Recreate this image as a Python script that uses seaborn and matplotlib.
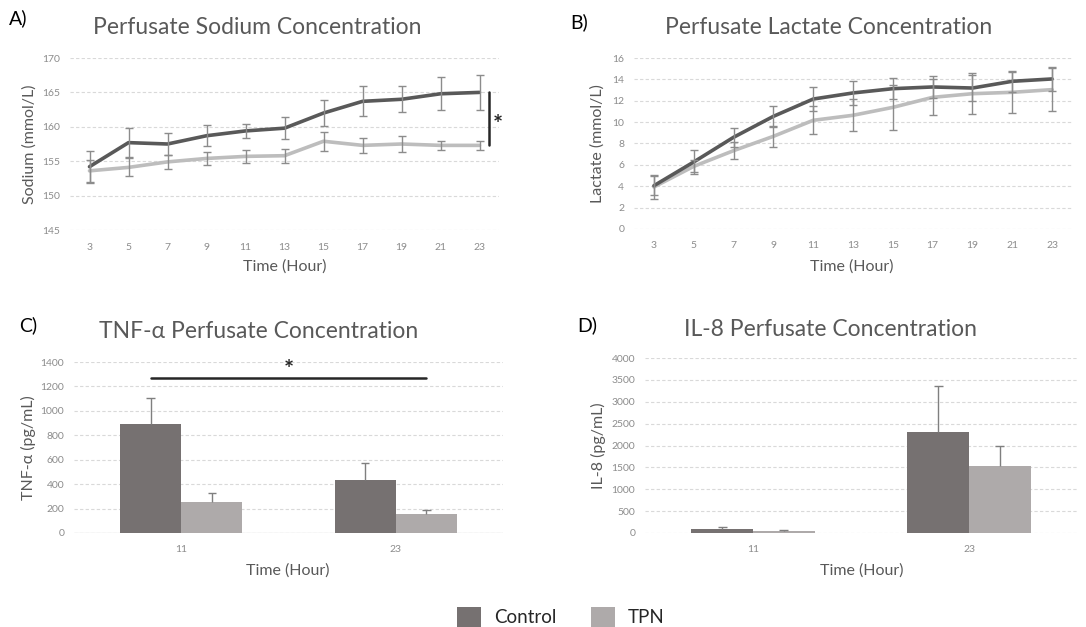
import numpy as np
import pandas as pd
import matplotlib
matplotlib.use("Agg")
import matplotlib.pyplot as plt
from matplotlib.patches import Patch
import seaborn as sns

# ---- data -------------------------------------------------------------
hours = [3, 5, 7, 9, 11, 13, 15, 17, 19, 21, 23]

sodium_control = [154.2, 157.7, 157.5, 158.7, 159.4, 159.8, 162.0, 163.7, 164.0, 164.8, 165.0]
sodium_control_err = [2.3, 2.1, 1.6, 1.5, 1.0, 1.6, 1.9, 2.2, 1.9, 2.4, 2.5]
sodium_tpn = [153.6, 154.1, 154.9, 155.4, 155.7, 155.8, 157.9, 157.3, 157.5, 157.3, 157.3]
sodium_tpn_err = [1.6, 1.3, 1.0, 1.0, 0.9, 1.0, 1.4, 1.1, 1.1, 0.7, 0.7]

lactate_control = [4.05, 6.27, 8.58, 10.54, 12.16, 12.73, 13.13, 13.29, 13.19, 13.82, 14.04]
lactate_control_err = [0.9, 1.15, 0.9, 0.95, 1.1, 1.1, 1.0, 1.0, 1.25, 1.0, 1.1]
lactate_tpn = [3.93, 5.86, 7.33, 8.67, 10.17, 10.64, 11.38, 12.32, 12.66, 12.79, 13.04]
lactate_tpn_err = [1.1, 0.55, 0.8, 1.0, 1.3, 1.5, 2.1, 1.7, 1.9, 1.9, 2.0]

bar_hours = ["11", "23"]
tnf_control = [895, 431]
tnf_control_err = [213, 145]
tnf_tpn = [254, 153]
tnf_tpn_err = [76, 38]

il8_control = [92, 2320]
il8_control_err = [46, 1040]
il8_tpn = [38, 1540]
il8_tpn_err = [23, 460]

groups = ["Control", "TPN"]

# ---- style ------------------------------------------------------------
sns.set_theme(style="white")
plt.rcParams["font.family"] = ["Lato", "DejaVu Sans"]

W, H = 1086, 627
DARK_BAR, LIGHT_BAR = "#767171", "#aeaaaa"
DARK_LINE, LIGHT_LINE = "#595959", "#bdbdbd"
ERR = "#8c8c8c"
GRID = "#d9d9d9"
TXT = "#595959"
TICK = "#8c8c8c"

fig = plt.figure(figsize=(W / 100, H / 100), dpi=100)
fig.patch.set_facecolor("white")


def add_axes_px(left, top, right, bottom):
    return fig.add_axes([left / W, 1 - bottom / H, (right - left) / W, (bottom - top) / H])


def ftext(x, y, s, **kw):
    fig.text(x / W, 1 - y / H, s, **kw)


def style_axes(ax, yticks):
    for sp in ax.spines.values():
        sp.set_visible(False)
    ax.set_yticks(yticks)
    ax.yaxis.grid(True, color=GRID, linestyle=(0, (3, 2)), linewidth=0.8)
    ax.xaxis.grid(False)
    ax.set_axisbelow(True)
    ax.tick_params(axis="both", length=0, labelsize=7.5, labelcolor=TICK, pad=7)
    ax.tick_params(axis="x", pad=9)
    ax.set_xlabel("")
    ax.set_ylabel("")
    leg = ax.get_legend()
    if leg is not None:
        leg.remove()


def line_panel(ax, ctrl, ctrl_err, tpn, tpn_err, ylim, yticks):
    df = pd.DataFrame({
        "hour": hours * 2,
        "value": ctrl + tpn,
        "group": ["Control"] * len(hours) + ["TPN"] * len(hours),
    })
    # TPN first so the Control line sits on top
    sns.lineplot(data=df[df.group == "TPN"], x="hour", y="value", color=LIGHT_LINE,
                 linewidth=2.6, ax=ax, zorder=3)
    sns.lineplot(data=df[df.group == "Control"], x="hour", y="value", color=DARK_LINE,
                 linewidth=2.6, ax=ax, zorder=4)
    ax.errorbar(hours, tpn, yerr=tpn_err, fmt="none", ecolor=ERR, elinewidth=1.0,
                capsize=3, capthick=1.0, zorder=5)
    ax.errorbar(hours, ctrl, yerr=ctrl_err, fmt="none", ecolor=ERR, elinewidth=1.0,
                capsize=3, capthick=1.0, zorder=5)
    ax.set_xlim(2, 24)
    ax.set_ylim(*ylim)
    ax.set_xticks(hours)
    ax.set_xticklabels([str(h) for h in hours])
    style_axes(ax, yticks)


def bar_panel(ax, ctrl, ctrl_err, tpn, tpn_err, ylim, yticks):
    df = pd.DataFrame({
        "hour": bar_hours * 2,
        "value": ctrl + tpn,
        "group": ["Control"] * len(bar_hours) + ["TPN"] * len(bar_hours),
    })
    sns.barplot(data=df, x="hour", y="value", hue="group", hue_order=groups,
                palette=[DARK_BAR, LIGHT_BAR], width=0.57, gap=0, errorbar=None,
                saturation=1, linewidth=0, edgecolor="none", ax=ax, zorder=3)
    # upper-only error whiskers with a cap at the top
    for container, errs in zip(ax.containers, [ctrl_err, tpn_err]):
        for bar, e in zip(container, errs):
            x = bar.get_x() + bar.get_width() / 2
            y = bar.get_height()
            ax.vlines(x, y, y + e, color="#7f7f7f", linewidth=1.0, zorder=4)
            ax.hlines(y + e, x - 0.02, x + 0.02, color="#7f7f7f", linewidth=1.0, zorder=4)
    ax.set_xlim(-0.5, 1.5)
    ax.set_ylim(*ylim)
    style_axes(ax, yticks)


# ---- A: sodium --------------------------------------------------------
axA = add_axes_px(70, 58, 499, 230)
line_panel(axA, sodium_control, sodium_control_err, sodium_tpn, sodium_tpn_err,
           (145, 170), [145, 150, 155, 160, 165, 170])
axA.plot([23.5, 23.5], [165.0, 157.3], color="#262626", linewidth=1.8,
         clip_on=False, zorder=6)
axA.text(23.95, 160.2, "*", fontsize=17, fontweight="bold", color="#262626",
         ha="center", va="center")

# ---- B: lactate -------------------------------------------------------
axB = add_axes_px(634, 58, 1072, 229)
line_panel(axB, lactate_control, lactate_control_err, lactate_tpn, lactate_tpn_err,
           (0, 16), [0, 2, 4, 6, 8, 10, 12, 14, 16])

# ---- C: TNF-alpha -----------------------------------------------------
axC = add_axes_px(74, 362, 503, 533)
bar_panel(axC, tnf_control, tnf_control_err, tnf_tpn, tnf_tpn_err,
          (0, 1400), [0, 200, 400, 600, 800, 1000, 1200, 1400])
axC.axhline(0, color="#d0d0d0", linewidth=0.9, zorder=2)
axC.plot([-0.14, 1.14], [1269, 1269], color="#262626", linewidth=1.8, zorder=6)
axC.text(0.5, 1330, "*", fontsize=17, fontweight="bold", color="#262626",
         ha="center", va="center")

# ---- D: IL-8 ----------------------------------------------------------
axD = add_axes_px(645, 358, 1077, 533)
bar_panel(axD, il8_control, il8_control_err, il8_tpn, il8_tpn_err,
          (0, 4000), [0, 500, 1000, 1500, 2000, 2500, 3000, 3500, 4000])

# ---- titles, panel letters, axis labels --------------------------------
title_kw = dict(fontsize=16.5, color=TXT, ha="center", va="center")
ftext(257, 28, "Perfusate Sodium Concentration", **title_kw)
ftext(829, 28, "Perfusate Lactate Concentration", **title_kw)
ftext(259, 332, "TNF-\u03b1 Perfusate Concentration", **title_kw)
ftext(831, 330, "IL-8 Perfusate Concentration", **title_kw)

letter_kw = dict(fontsize=14, color="black", ha="left", va="center")
ftext(9, 18, "A)", **letter_kw)
ftext(570, 22, "B)", **letter_kw)
ftext(19, 325, "C)", **letter_kw)
ftext(577, 325, "D)", **letter_kw)

xlab_kw = dict(fontsize=11.5, color=TXT, ha="center", va="center")
ftext(285, 267, "Time (Hour)", **xlab_kw)
ftext(852, 267, "Time (Hour)", **xlab_kw)
ftext(288, 571, "Time (Hour)", **xlab_kw)
ftext(862, 571, "Time (Hour)", **xlab_kw)

ylab_kw = dict(fontsize=11.5, color=TXT, ha="center", va="center", rotation=90)
ftext(30, 144, "Sodium (mmol/L)", **ylab_kw)
ftext(598, 144, "Lactate (mmol/L)", **ylab_kw)
ftext(28, 448, "TNF-\u03b1 (pg/mL)", **ylab_kw)
ftext(598, 446, "IL-8 (pg/mL)", **ylab_kw)

# ---- shared legend ----------------------------------------------------
handles = [Patch(facecolor=DARK_BAR, edgecolor="none"),
           Patch(facecolor=LIGHT_BAR, edgecolor="none")]
fig.legend(handles, groups, loc="center", bbox_to_anchor=(561 / W, 1 - 617 / H),
           ncol=2, frameon=False, fontsize=13.5, handlelength=1.3, handleheight=1.3,
           handletextpad=0.7, columnspacing=1.8, labelcolor="#262626")

fig.savefig("out.png", dpi=100, facecolor="white")
